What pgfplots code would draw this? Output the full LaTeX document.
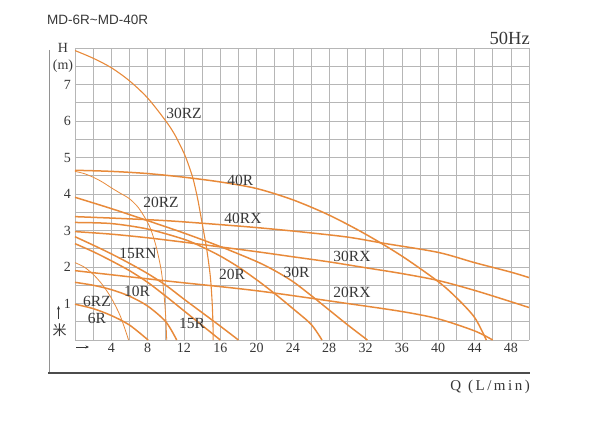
\documentclass[border=0pt]{standalone}
\usepackage{pgfplots}
\pgfplotsset{compat=1.18}
\usepackage{fontspec}
\setmainfont{Liberation Serif}
\newfontfamily\sansf{Liberation Sans}
\newfontfamily\cjk{Noto Sans CJK SC}
\usetikzlibrary{arrows.meta}
\definecolor{curve}{RGB}{232,138,58}
\definecolor{gridgray}{RGB}{182,182,182}
\definecolor{txt}{RGB}{55,55,55}
\tikzset{
  curv/.style={draw=curve, line width=1.5pt, smooth},
  thin curv/.style={draw=curve, line width=0.8pt, smooth},
  lab/.style={font=\fontsize{15.5}{15.5}\selectfont, text=txt, inner sep=0pt},
}
\begin{document}
\begin{tikzpicture}[x=1pt,y=1pt]
\path[use as bounding box] (0,0) rectangle (595,424);
\begin{axis}[
  at={(75pt,84pt)}, anchor=south west,
  width=454pt, height=292pt, scale only axis,
  xmin=0, xmax=50, ymin=0, ymax=8,
  xtick={4,8,...,48}, ytick={1,2,...,7},
  minor xtick={0,2,...,50}, minor ytick={0,0.5,...,8},
  grid=both,
  major grid style={draw=gridgray, line width=0.65pt},
  minor grid style={draw=gridgray, line width=0.65pt},
  axis line style={draw=none},
  major tick length=0pt, minor tick length=0pt,
  tick label style={font=\fontsize{14}{14}\selectfont, text=txt},
  /pgf/number format/assume math mode=true,
  xticklabel style={inner sep=1pt, yshift=-2pt},
  yticklabel style={inner sep=1pt, xshift=-3pt},
  clip=false,
]
% 30RZ
\addplot[draw=curve, line width=1.1pt, smooth, no marks] coordinates {(0,7.93) (2,7.72) (4,7.46) (6,7.1) (8,6.63) (10,6.0) (11,5.62) (12,5.12) (12.5,4.8) (13,4.42) (13.5,3.88) (14,3.2) (14.5,2.5) (14.9,1.75) (15.1,1.05) (15.2,0.4) (15.22,0)};
% 40R
\addplot[curv, no marks] coordinates {(0,4.65) (4,4.62) (8,4.56) (12,4.46) (16,4.33) (20,4.15) (24,3.84) (28,3.42) (32,2.9) (36,2.3) (40,1.6) (42,1.16) (44,0.62) (45.3,0)};
% 20RZ
\addplot[thin curv, no marks] coordinates {(0,4.62) (1,4.56) (2,4.46) (3,4.33) (4,4.17) (5,4.02) (6,3.87) (7,3.62) (8,3.22) (8.5,2.92) (9,2.5) (9.5,1.9) (9.8,1.25) (10,0.6) (10.1,0)};
% 30R
\addplot[curv, no marks] coordinates {(0,3.91) (4,3.6) (8,3.27) (12,2.93) (16,2.56) (20,2.15) (22,1.9) (24,1.6) (26,1.22) (28,0.82) (30,0.42) (32.2,0)};
% 40RX
\addplot[curv, no marks] coordinates {(0,3.38) (5,3.33) (10,3.27) (15,3.18) (20,3.08) (25,2.96) (30,2.82) (34,2.65) (40,2.4) (44,2.12) (48,1.86) (50,1.71)};
% 20R
\addplot[curv, no marks] coordinates {(0,3.22) (4,3.19) (8,3.04) (12,2.76) (14,2.55) (16,2.3) (18,2.0) (20,1.65) (22,1.27) (24,0.86) (26,0.43) (27.2,0)};
% 30RX
\addplot[curv, no marks] coordinates {(0,2.97) (4,2.9) (8,2.8) (12,2.68) (16,2.55) (20,2.42) (24,2.28) (28,2.14) (32,1.98) (36,1.82) (40,1.63) (44,1.36) (48,1.05) (50,0.89)};
% 15RN
\addplot[curv, no marks] coordinates {(0,2.83) (2,2.6) (4,2.36) (6,2.1) (8,1.82) (10,1.5) (12,1.12) (14,0.75) (16,0.38) (18,0)};
% 15R
\addplot[curv, no marks] coordinates {(0,2.64) (2,2.42) (4,2.17) (6,1.9) (8,1.58) (10,1.2) (12,0.8) (14,0.4) (16,0)};
% 6RZ
\addplot[thin curv, no marks] coordinates {(0,2.12) (1,2.0) (2,1.8) (3,1.52) (4,1.15) (5,0.65) (5.9,0)};
% 20RX
\addplot[curv, no marks] coordinates {(0,1.9) (10,1.62) (20,1.35) (30,1.0) (36,0.78) (40,0.58) (44,0.25) (46,0)};
% 10R
\addplot[curv, no marks] coordinates {(0,1.58) (2,1.5) (4,1.38) (6,1.2) (8,0.93) (10,0.5) (11.2,0)};
% 6R
\addplot[curv, no marks] coordinates {(0,0.98) (2,0.86) (4,0.67) (6,0.41) (8.05,0)};
\node[lab] at (axis cs:12.0,6.22) {30RZ};
\node[lab] at (axis cs:18.2,4.38) {40R};
\node[lab] at (axis cs:9.47,3.78) {20RZ};
\node[lab] at (axis cs:18.5,3.34) {40RX};
\node[lab] at (axis cs:6.94,2.38) {15RN};
\node[lab] at (axis cs:17.3,1.81) {20R};
\node[lab] at (axis cs:24.4,1.86) {30R};
\node[lab] at (axis cs:30.5,2.30) {30RX};
\node[lab] at (axis cs:30.5,1.29) {20RX};
\node[lab] at (axis cs:6.83,1.32) {10R};
\node[lab] at (axis cs:2.42,1.07) {6RZ};
\node[lab] at (axis cs:2.42,0.60) {6R};
\node[lab] at (axis cs:12.9,0.44) {15R};
\end{axis}
% frame and decorations
\draw[gridgray!80!black, line width=0.7pt] (49,374) -- (49,51);
\draw[black!70, line width=1.6pt] (48,51) -- (530,51);
\node[anchor=west, text=txt, inner sep=0pt, font=\sansf\fontsize{13.5}{13.5}\selectfont] at (47,404) {MD-6R\textasciitilde MD-40R};
\node[anchor=east, text=txt, inner sep=0pt, font=\fontsize{18.5}{18.5}\selectfont] at (530,385.5) {50Hz};
\node[text=txt, inner sep=0pt, font=\fontsize{14}{14}\selectfont] at (63,376) {H};
\node[text=txt, inner sep=0pt, font=\fontsize{14}{14}\selectfont] at (63,357.5) {(m)};
\draw[txt, line width=0.6pt, -{Stealth[length=3.5pt,width=3pt]}] (58.5,105) -- (58.5,118);
\node[text=txt, inner sep=0pt, font=\cjk\fontsize{14}{14}\selectfont] at (59.5,94) {米};
\draw[txt, line width=0.6pt, -{Stealth[length=3.5pt,width=3pt]}] (76,77) -- (89,77);
\node[anchor=east, text=txt, inner sep=0pt, font=\fontsize{15}{15}\selectfont] at (530,37.5) {Q\hspace{7pt}(\hspace{2.5pt}L\hspace{2.5pt}/\hspace{2.5pt}m\hspace{2.5pt}i\hspace{2.5pt}n\hspace{2.5pt})};
\end{tikzpicture}
\end{document}
